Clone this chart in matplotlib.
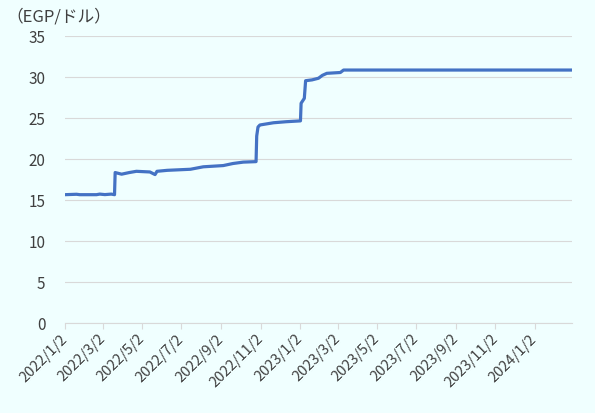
import matplotlib
matplotlib.use("Agg")
import matplotlib.pyplot as plt
import pandas as pd

plt.rcParams['font.family'] = ['Noto Sans CJK JP', 'DejaVu Sans']

# EGP per USD (points where the line changes)
dates = [
    "2022-01-02", "2022-01-20", "2022-01-25", "2022-02-20", "2022-02-25",
    "2022-03-05", "2022-03-15", "2022-03-20", "2022-03-21", "2022-03-31",
    "2022-04-12", "2022-04-23", "2022-05-14", "2022-05-22", "2022-05-25",
    "2022-06-10", "2022-07-16", "2022-08-05", "2022-09-05", "2022-09-20",
    "2022-10-06", "2022-10-26", "2022-10-27", "2022-10-29", "2022-11-01",
    "2022-11-22", "2022-12-12", "2023-01-03", "2023-01-04", "2023-01-09",
    "2023-01-11", "2023-01-21", "2023-01-31", "2023-02-06", "2023-02-13",
    "2023-03-06", "2023-03-11", "2024-02-29",
]
rates = [
    15.65, 15.70, 15.65, 15.65, 15.72,
    15.66, 15.72, 15.65, 18.35, 18.15,
    18.35, 18.50, 18.42, 18.10, 18.50,
    18.62, 18.75, 19.05, 19.20, 19.45,
    19.62, 19.68, 22.80, 23.90, 24.15,
    24.42, 24.55, 24.65, 26.80, 27.40,
    29.55, 29.65, 29.85, 30.20, 30.45,
    30.55, 30.85, 30.85,
]
tick_dates = [
    "2022-01-02", "2022-03-02", "2022-05-02", "2022-07-02", "2022-09-02",
    "2022-11-02", "2023-01-02", "2023-03-02", "2023-05-02", "2023-07-02",
    "2023-09-02", "2023-11-02", "2024-01-02",
]
tick_labels = [
    "2022/1/2", "2022/3/2", "2022/5/2", "2022/7/2", "2022/9/2",
    "2022/11/2", "2023/1/2", "2023/3/2", "2023/5/2", "2023/7/2",
    "2023/9/2", "2023/11/2", "2024/1/2",
]
y_ticks = [0, 5, 10, 15, 20, 25, 30, 35]

bg = '#F0FFFF'
grid_col = '#D9D9D9'
text_col = '#404040'

x = pd.to_datetime(dates)

fig = plt.figure(figsize=(5.95, 4.13), dpi=100, facecolor=bg)
ax = fig.add_axes([0.1092, 0.2179, 0.8521, 0.6949], facecolor=bg)

ax.plot(x, rates, color='#4472C4', linewidth=2.3, solid_joinstyle='round')

ax.set_xlim(pd.Timestamp("2022-01-02"), pd.Timestamp("2024-02-29"))
ax.set_ylim(0, 35)
ax.set_yticks(y_ticks)
ax.yaxis.grid(True, color=grid_col, linewidth=0.8)
ax.set_axisbelow(True)

ax.set_xticks(pd.to_datetime(tick_dates))
ax.set_xticklabels(tick_labels, rotation=45, ha='right', va='center',
                   rotation_mode='anchor', fontsize=10.5, color=text_col)
ax.tick_params(axis='x', direction='out', length=4, color=grid_col, pad=6)
ax.tick_params(axis='y', length=0, pad=14, labelsize=11, labelcolor=text_col)

for side in ['top', 'right', 'left']:
    ax.spines[side].set_visible(False)
ax.spines['bottom'].set_color(grid_col)
ax.spines['bottom'].set_linewidth(0.8)

fig.text(0.010, 0.960, "（EGP/ドル）", fontsize=12, color=text_col,
         ha='left', va='center')

fig.savefig("out.png", dpi=100, facecolor=bg)
